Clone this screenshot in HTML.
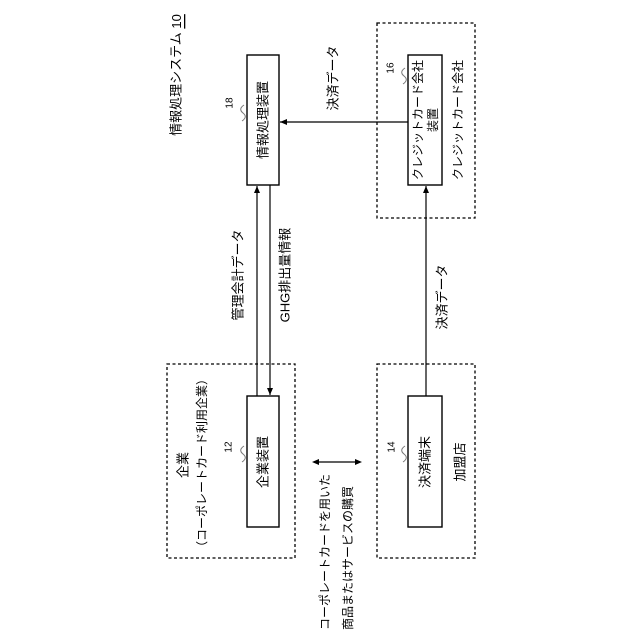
<!DOCTYPE html>
<html><head><meta charset="utf-8"><style>
html,body{margin:0;padding:0;background:#fff;}
svg{display:block;}
text{font-family:"Liberation Sans","Noto Sans CJK JP",sans-serif;font-size:13px;fill:#000;}
</style></head><body>
<svg width="640" height="640" viewBox="0 0 640 640" xmlns="http://www.w3.org/2000/svg">
<defs>
<marker id="ah" markerWidth="8" markerHeight="8" refX="7" refY="4" orient="auto" markerUnits="userSpaceOnUse">
<path d="M0,1 L7,4 L0,7 Z" fill="#000"/>
</marker>
</defs>
<g fill="none" stroke="#000" stroke-width="1.3" stroke-dasharray="3,2.5">
<rect x="377" y="23" width="98" height="195"/>
<rect x="167" y="364" width="128" height="194"/>
<rect x="377" y="364" width="98" height="194"/>
</g>
<g fill="#fff" stroke="#000" stroke-width="1.4">
<rect x="247" y="55" width="32" height="130"/>
<rect x="408" y="55" width="34" height="130"/>
<rect x="247" y="396" width="32" height="131"/>
<rect x="408" y="396" width="34" height="131"/>
</g>
<g stroke="#000" stroke-width="1.2" fill="none">
<line x1="408" y1="122" x2="280" y2="122" marker-end="url(#ah)"/>
<line x1="257" y1="396" x2="257" y2="186" marker-end="url(#ah)"/>
<line x1="270" y1="185" x2="270" y2="395" marker-end="url(#ah)"/>
<line x1="426" y1="396" x2="426" y2="186" marker-end="url(#ah)"/>
<line x1="318" y1="462" x2="356" y2="462"/>
</g>
<path d="M312,462 L319,459 L319,465 Z M362,462 L355,459 L355,465 Z" fill="#000"/>
<g stroke="#777" stroke-width="1" fill="none">
<path d="M244,105 q-6,4 -1,8 q5,4 -1,8"/>
<path d="M405,68 q-6,4 -1,8 q5,4 -1,8"/>
<path d="M244,446 q-6,4 -1,8 q5,4 -1,8"/>
<path d="M405,446 q-6,4 -1,8 q5,4 -1,8"/>
</g>
<g text-anchor="middle" dominant-baseline="central">
<text transform="translate(176,75) rotate(-90)">情報処理システム <tspan text-decoration="underline">10</tspan></text>
<text transform="translate(263,120) rotate(-90)">情報処理装置</text>
<text transform="translate(230,103) rotate(-90)" style="font-size:10px">18</text>
<text transform="translate(333,78) rotate(-90)">決済データ</text>
<text transform="translate(418,120) rotate(-90)" style="font-size:12px">クレジットカード会社</text>
<text transform="translate(433,120) rotate(-90)" style="font-size:12px">装置</text>
<text transform="translate(391,68) rotate(-90)" style="font-size:10px">16</text>
<text transform="translate(458,120) rotate(-90)" style="font-size:12px">クレジットカード会社</text>
<text transform="translate(238,275) rotate(-90)">管理会計データ</text>
<text transform="translate(285,275) rotate(-90)">GHG排出量情報</text>
<text transform="translate(442,297) rotate(-90)">決済データ</text>
<text transform="translate(183,465) rotate(-90)">企業</text>
<text transform="translate(202,463) rotate(-90)" style="font-size:12px">（コーポレートカード利用企業）</text>
<text transform="translate(229,447) rotate(-90)" style="font-size:10px">12</text>
<text transform="translate(263,462) rotate(-90)">企業装置</text>
<text transform="translate(392,447) rotate(-90)" style="font-size:10px">14</text>
<text transform="translate(425,462) rotate(-90)">決済端末</text>
<text transform="translate(460,462) rotate(-90)">加盟店</text>
</g>
<g text-anchor="start" dominant-baseline="central" style="font-size:12px">
<text transform="translate(325,630) rotate(-90)" style="font-size:12px">コーポレートカードを用いた</text>
<text transform="translate(348,630) rotate(-90)" style="font-size:12px">商品またはサービスの購買</text>
</g>
</svg>
</body></html>
